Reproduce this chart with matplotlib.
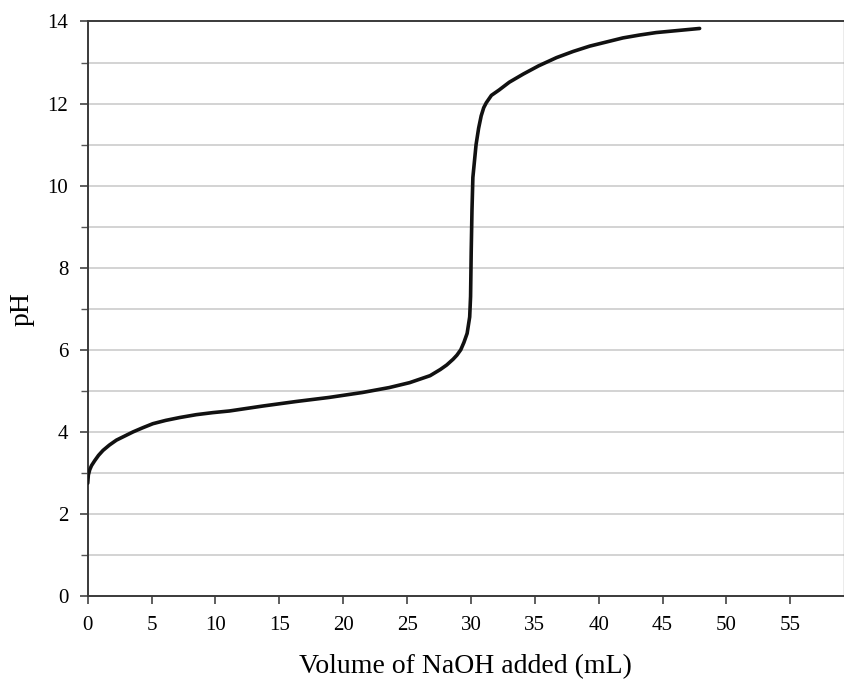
import matplotlib.pyplot as plt

# titration curve (mL of NaOH vs pH)
volume_ml = [0.0, 0.05, 0.16, 0.3, 0.55, 0.85, 1.2, 1.7, 2.25, 2.9, 3.55, 4.3,
             5.1, 6.1, 7.2, 8.5, 9.8, 11.1, 13.7, 16.3, 18.9, 21.5, 23.6, 25.2,
             26.8, 27.6, 28.1, 28.6, 28.9, 29.2, 29.45, 29.7, 29.9, 29.97, 30.02,
             30.08, 30.15, 30.4, 30.6, 30.8, 31.0, 31.2, 31.6, 32.2, 33.0, 34.1,
             35.3, 36.7, 38.0, 39.3, 41.9, 43.2, 44.5, 46.2, 47.9]
ph = [2.75, 2.95, 3.08, 3.18, 3.3, 3.43, 3.55, 3.68, 3.8, 3.9, 4.0, 4.1,
      4.2, 4.28, 4.35, 4.42, 4.47, 4.51, 4.63, 4.74, 4.84, 4.96, 5.08, 5.2,
      5.37, 5.52, 5.63, 5.77, 5.87, 6.0, 6.18, 6.4, 6.8, 7.3, 8.4,
      9.4, 10.2, 11.0, 11.4, 11.7, 11.9, 12.02, 12.2, 12.33, 12.52, 12.72,
      12.92, 13.12, 13.27, 13.4, 13.6, 13.67, 13.73, 13.78, 13.83]

x_ticks = list(range(0, 60, 5))
y_ticks = list(range(0, 15, 2))

plt.rcParams['font.family'] = ['Liberation Serif', 'DejaVu Serif']

fig = plt.figure(figsize=(8.45, 6.82), dpi=100)
ax = fig.add_axes([0.1038, 0.126, 0.8950, 0.8425])

# faint ruled lines every 1 pH unit
for g in range(1, 14):
    ax.axhline(g, color='#d0d0d0', lw=1.3, zorder=1)

ax.plot(volume_ml, ph, color='#111111', lw=2.6, zorder=3,
        solid_joinstyle='round', solid_capstyle='round')

ax.set_xlim(0, 59.2)
ax.set_ylim(0, 14)
ax.set_xticks(x_ticks)
ax.set_yticks(y_ticks)
ax.set_yticks(range(0, 15), minor=True)
ax.tick_params(axis='both', labelsize=15, direction='out', length=6, width=1.1,
               color='#333333', pad=8)
ax.tick_params(axis='y', which='minor', length=5, width=1, color='#555555')

for s in ax.spines.values():
    s.set_linewidth(1.4)
    s.set_color('#3a3a3a')
ax.spines['right'].set_color('#9a9a9a')
ax.spines['right'].set_linewidth(1.0)

ax.set_xlabel('Volume of NaOH added (mL)', fontsize=20, va='center')
ax.xaxis.set_label_coords(0.5, -0.122)
ax.set_ylabel('pH', fontsize=20, va='center')
ax.yaxis.set_label_coords(-0.087, 0.5)

fig.savefig('out.png', dpi=100)
